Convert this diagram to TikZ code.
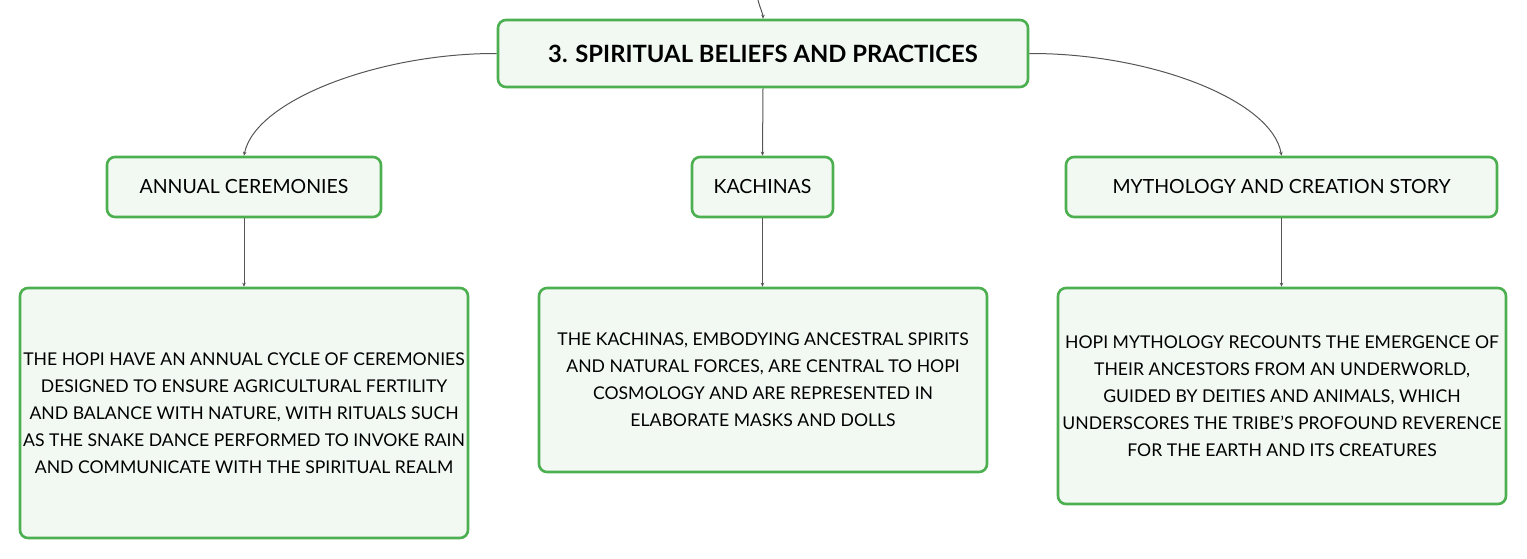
\documentclass[tikz,border=0pt]{standalone}
\usepackage{fontspec}
\setmainfont{Lato}
\usetikzlibrary{arrows.meta}
\definecolor{boxgreen}{RGB}{76,175,80}
\definecolor{boxfill}{RGB}{242,249,243}
\definecolor{linegray}{RGB}{85,85,85}
\begin{document}
\begin{tikzpicture}[x=1pt,y=-1pt,
  box/.style={draw=boxgreen,fill=boxfill,line width=2.6pt,rounded corners=8pt,
    align=center,inner sep=0pt,font=\fontsize{17.6}{27}\selectfont},
  head/.style={box,minimum height=60pt,font=\fontsize{19.5}{24}\selectfont},
  conn/.style={draw=linegray,line width=1pt,-{Stealth[length=4pt,width=3.5pt]}}]
\useasboundingbox (0,0) rectangle (1527,558);
\node[box,minimum width=530pt,minimum height=67pt,font=\bfseries\fontsize{23.8}{28}\selectfont] (title) at (763,53.5) {3. SPIRITUAL BELIEFS AND PRACTICES};
\node[head,minimum width=274pt] (ann) at (244,187) {ANNUAL CEREMONIES};
\node[head,minimum width=141pt] (kach) at (762.5,187) {KACHINAS};
\node[head,minimum width=431pt] (myth) at (1281.5,187) {MYTHOLOGY AND CREATION STORY};
\node[box,minimum width=448pt,minimum height=250pt] (annb) at (244,413) {THE HOPI HAVE AN ANNUAL CYCLE OF CEREMONIES\\DESIGNED TO ENSURE AGRICULTURAL FERTILITY\\AND BALANCE WITH NATURE, WITH RITUALS SUCH\\AS THE SNAKE DANCE PERFORMED TO INVOKE RAIN\\AND COMMUNICATE WITH THE SPIRITUAL REALM};
\node[box,minimum width=448pt,minimum height=184pt] (kachb) at (763,380) {THE KACHINAS, EMBODYING ANCESTRAL SPIRITS\\AND NATURAL FORCES, ARE CENTRAL TO HOPI\\COSMOLOGY AND ARE REPRESENTED IN\\ELABORATE MASKS AND DOLLS};
\node[box,minimum width=448pt,minimum height=216pt] (mythb) at (1282,396) {HOPI MYTHOLOGY RECOUNTS THE EMERGENCE OF\\THEIR ANCESTORS FROM AN UNDERWORLD,\\GUIDED BY DEITIES AND ANIMALS, WHICH\\UNDERSCORES THE TRIBE'S PROFOUND REVERENCE\\FOR THE EARTH AND ITS CREATURES};
\coordinate (top) at (758,0);
\draw[conn] (top) .. controls (760,8) and (763,14) .. (title.north);
\draw[conn] (title.west) .. controls (380,53) and (255,100) .. (ann.north);
\draw[conn] (title.east) .. controls (1150,53) and (1272,100) .. (myth.north);
\draw[conn] (title.south) -- (kach.north);
\draw[conn] (ann.south) -- (annb.north);
\draw[conn] (kach.south) -- (kach.south|-kachb.north);
\draw[conn] (myth.south) -- (myth.south|-mythb.north);
\end{tikzpicture}
\end{document}
